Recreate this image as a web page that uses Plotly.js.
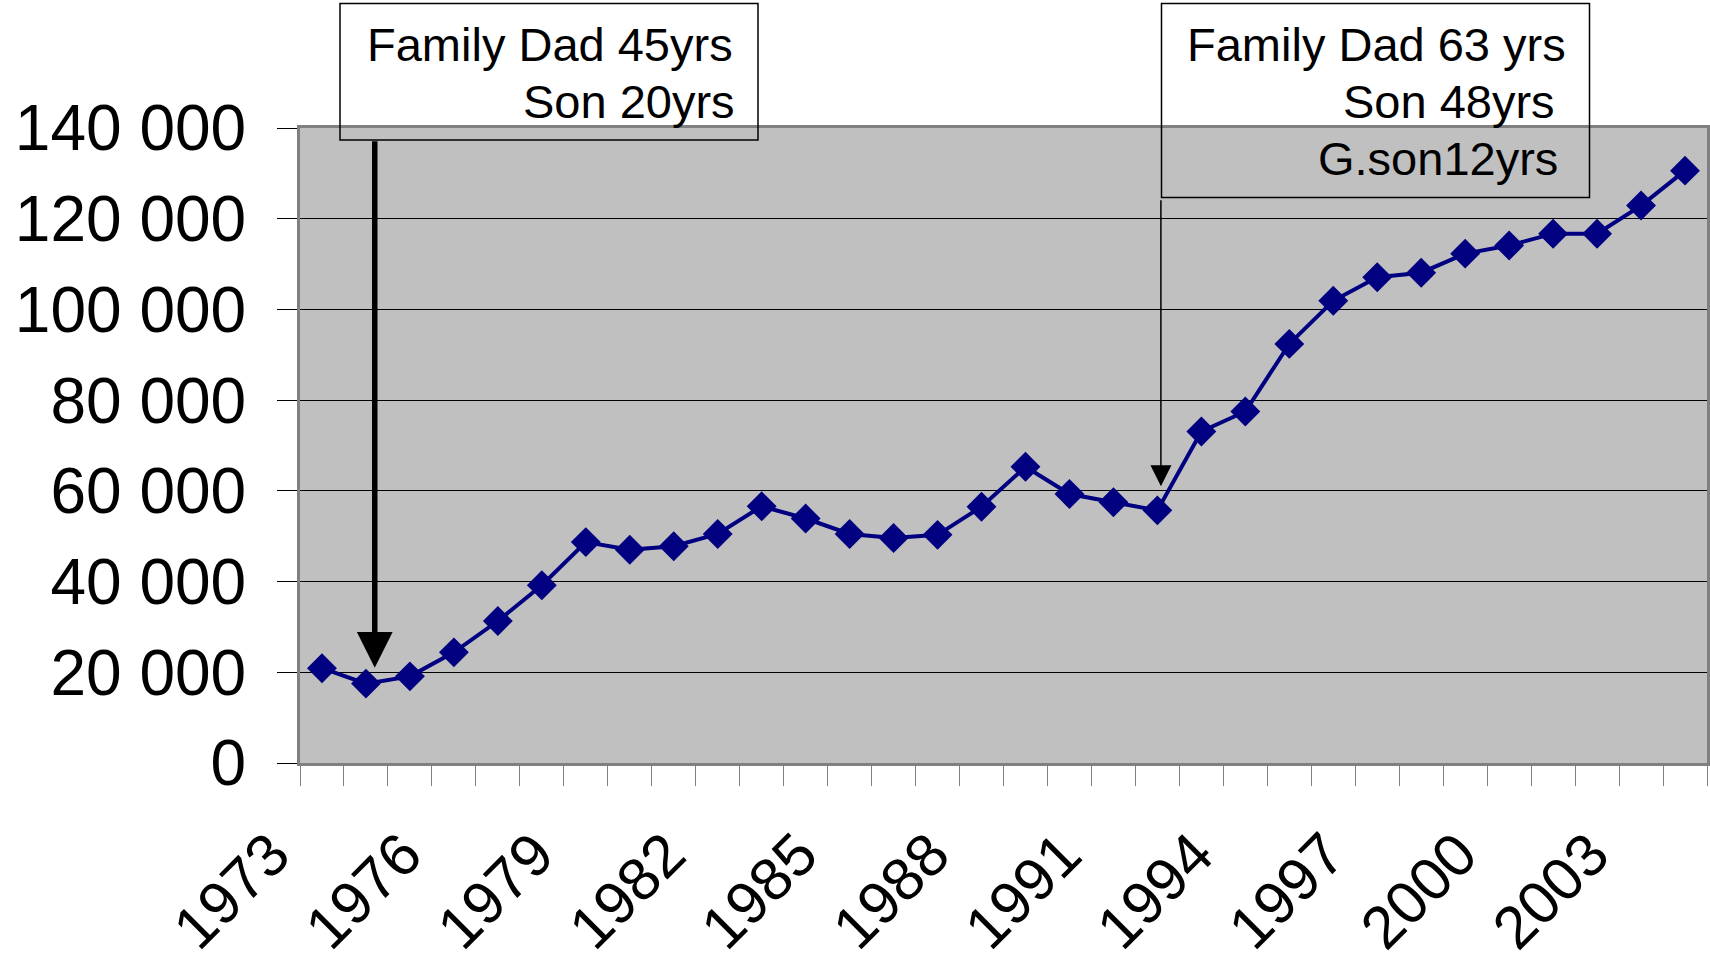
<!DOCTYPE html>
<html>
<head>
<meta charset="utf-8">
<script src="https://cdn.plot.ly/plotly-3.0.1.min.js"></script>
<style>
html,body{margin:0;padding:0;background:#fff;}
#chart{width:1710px;height:967px;}
</style>
</head>
<body>
<div id="chart"></div>
<script>
// ---- data ----
const years = [1973,1974,1975,1976,1977,1978,1979,1980,1981,1982,1983,1984,1985,1986,1987,1988,
               1989,1990,1991,1992,1993,1994,1995,1996,1997,1998,1999,2000,2001,2002,2003,2004];
const values = [20900,17500,19100,24400,31300,39200,48700,47000,47800,50500,56600,53900,50500,49600,50300,56500,
                65300,59300,57500,55700,73100,77500,92400,101900,107100,108100,112300,114100,116700,116700,122900,130600];
const tickYears = [1973,1976,1979,1982,1985,1988,1991,1994,1997,2000,2003];
const tickLabels = ["1973","1976","1979","1982","1985","1988","1991","1994","1997","2000","2003"];
const yTicks = [0,20000,40000,60000,80000,100000,120000,140000];

const note1Lines = ["Family Dad 45yrs", "Son 20yrs"];
const note2Lines = ["Family Dad 63 yrs", "Son 48yrs", "G.son12yrs"];

// ---- layout helpers (pixel geometry of the page) ----
const W = 1710, H = 967;
const M = {l:300, r:3, t:128, b:204};
const PW = W - M.l - M.r, PH = H - M.t - M.b;
const px = x => (x - M.l) / PW;          // page px -> paper x
const py = y => (H - M.b - y) / PH;      // page px -> paper y

const FONT = "Liberation Sans, Arial, Helvetica, sans-serif";
const NOTE_FONT = {family:FONT, size:47, color:'#000'};
const lineCentres = [44, 101.5, 159];
const note1Right = [735, 737];
const note2Right = [1568, 1557, 1560];

const trace = {
  x: years, y: values, type: 'scatter', mode: 'lines+markers',
  line: {color:'#000080', width:4},
  marker: {symbol:'diamond', size:23, color:'#000080', line:{color:'#000080', width:0}},
  hoverinfo:'x+y', cliponaxis:false
};

const annotations = [];
note1Lines.forEach((t, i) => annotations.push({
  xref:'paper', yref:'paper', x:px(note1Right[i]), y:py(lineCentres[i]), xanchor:'right', yanchor:'middle',
  text:t, showarrow:false, font:NOTE_FONT}));
note2Lines.forEach((t, i) => annotations.push({
  xref:'paper', yref:'paper', x:px(note2Right[i]), y:py(lineCentres[i]), xanchor:'right', yanchor:'middle',
  text:t, showarrow:false, font:NOTE_FONT}));
annotations.push(
  {x:1974.2, y:21000, xref:'x', yref:'y', axref:'x', ayref:'y', ax:1974.2, ay:137400,
   text:'', showarrow:true, arrowhead:2, arrowwidth:5.5, arrowsize:1.3, arrowcolor:'#000', standoff:0},
  {x:1992.08, y:61000, xref:'x', yref:'y', axref:'x', ayref:'y', ax:1992.08, ay:124400,
   text:'', showarrow:true, arrowhead:2, arrowwidth:1.5, arrowsize:2.8, arrowcolor:'#000', standoff:0}
);

const layout = {
  width: W, height: H,
  margin: M,
  paper_bgcolor:'#ffffff', plot_bgcolor:'#C0C0C0',
  showlegend:false,
  separators: '. ',
  font:{family:FONT, color:'#000'},
  xaxis:{
    range:[1972.5, 2004.5], fixedrange:true,
    tickmode:'array', tickvals: tickYears, ticktext: tickLabels,
    tickangle:-45, ticks:'', showgrid:false, zeroline:false,
    tickfont:{family:FONT, size:60, color:'#000'},
    ticklabelstandoff: 29, ticklabelshift: -50,
    showline:true, mirror:true, linecolor:'#808080', linewidth:3,
    minor:{ticks:'outside', ticklen:20, tickwidth:1, tickcolor:'#808080', tickmode:'linear', tick0:1972.5, dtick:1, showgrid:false}
  },
  yaxis:{
    range:[0,140000], fixedrange:true,
    tickmode:'array', tickvals:yTicks, tickformat:',d',
    ticks:'outside', ticklen:20, tickwidth:1, tickcolor:'#000',
    tickfont:{family:FONT, size:64, color:'#000'},
    ticklabelstandoff: 18,
    showgrid:true, gridcolor:'#000', gridwidth:1, zeroline:false,
    showline:true, mirror:true, linecolor:'#808080', linewidth:3
  },
  shapes:[
    {type:'rect', xref:'paper', yref:'paper', x0:px(340), x1:px(758), y0:py(140), y1:py(3.5),
     line:{color:'#000', width:1.5}, fillcolor:'rgba(0,0,0,0)', layer:'above'},
    {type:'rect', xref:'paper', yref:'paper', x0:px(1161.5), x1:px(1589.5), y0:py(197.5), y1:py(3.5),
     line:{color:'#000', width:1.5}, fillcolor:'rgba(0,0,0,0)', layer:'above'}
  ],
  annotations: annotations
};

Plotly.newPlot('chart', [trace], layout, {displayModeBar:false, staticPlot:true});
</script>
</body>
</html>
